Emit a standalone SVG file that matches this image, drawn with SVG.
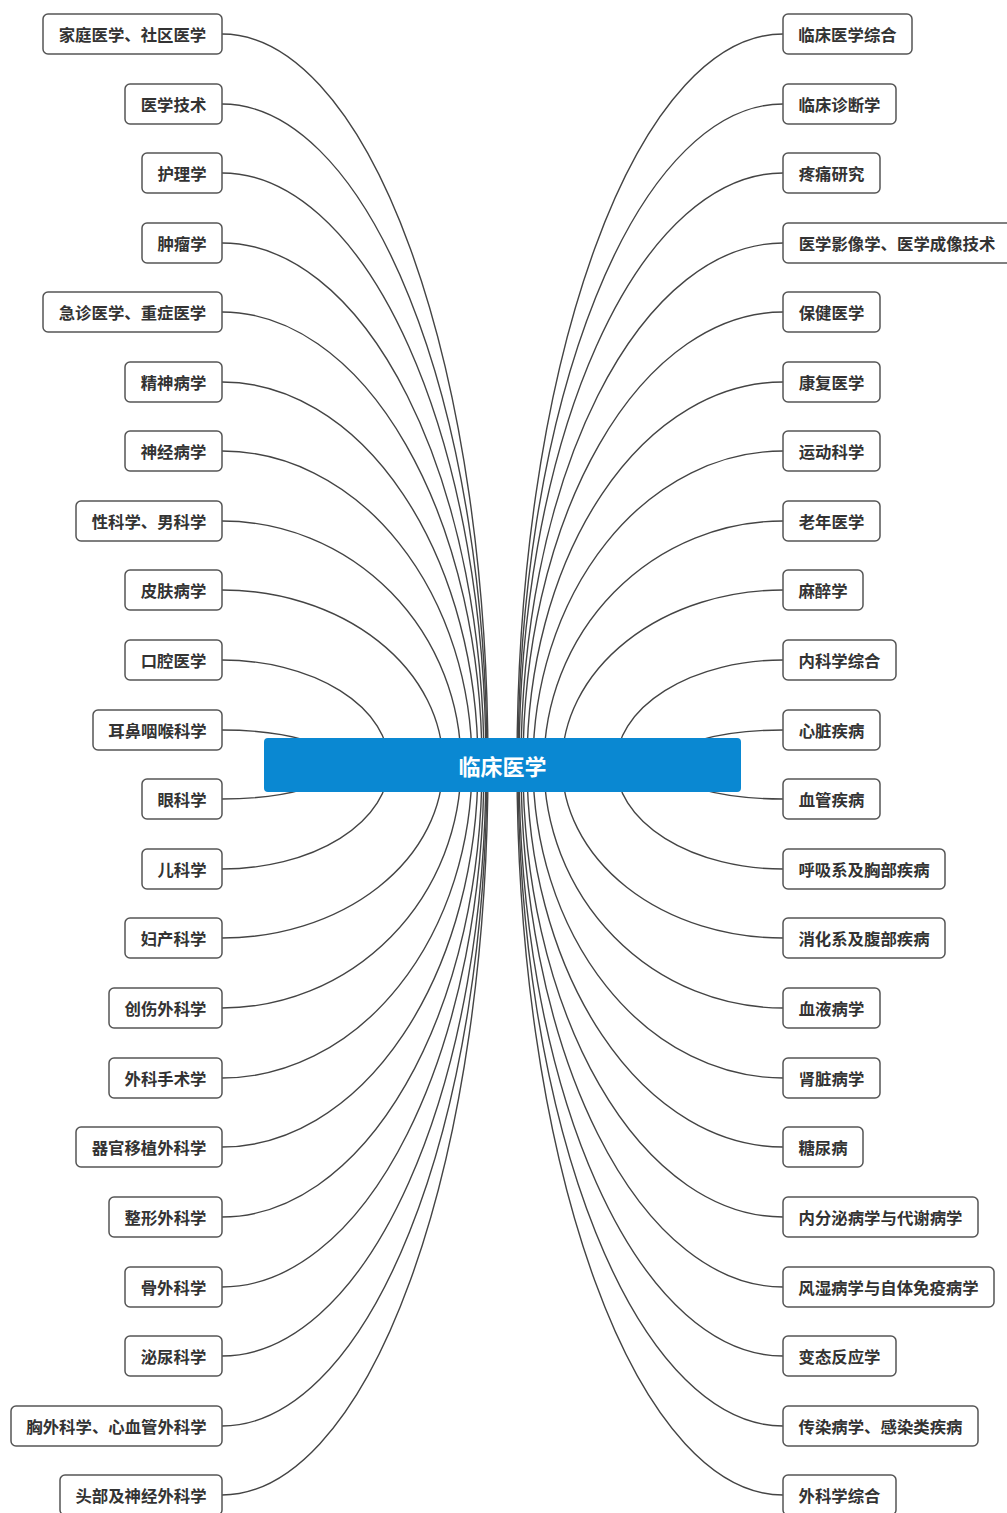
<svg xmlns="http://www.w3.org/2000/svg" width="1007" height="1513" viewBox="0 0 1007 1513">
<style>
.node{fill:#fff;stroke:#555;stroke-width:1.5}
.t{font-family:"Noto Sans CJK SC","Noto Sans",sans-serif;font-size:16.4px;font-weight:bold;fill:#333;text-anchor:middle;dominant-baseline:central}
.c{fill:none;stroke:#444;stroke-width:1.4}
.root{fill:#0a88d2}
.rt{font-family:"Noto Sans CJK SC","Noto Sans",sans-serif;font-size:22px;font-weight:bold;fill:#fff;text-anchor:middle;dominant-baseline:central}
</style>
<rect width="1007" height="1513" fill="#fff"/>
<g id="connectors" class="c">
<path d="M222 34 A266 730.5 0 0 1 488 764.5"/>
<path d="M222 104 A265 660.5 0 0 1 487 764.5"/>
<path d="M222 173 A264 591.5 0 0 1 486 764.5"/>
<path d="M222 243 A262 521.5 0 0 1 484 764.5"/>
<path d="M222 312 A260 452.5 0 0 1 482 764.5"/>
<path d="M222 382 A256 382.5 0 0 1 478 764.5"/>
<path d="M222 451 A250 313.5 0 0 1 472 764.5"/>
<path d="M222 521 A239 243.5 0 0 1 461 764.5"/>
<path d="M222 590 A221 174.5 0 0 1 443 764.5"/>
<path d="M222 660 A167 104.5 0 0 1 389 764.5"/>
<path d="M222 730 A118 34.5 0 0 1 340 764.5"/>
<path d="M222 799 A118 34.5 0 0 0 340 764.5"/>
<path d="M222 869 A167 104.5 0 0 0 389 764.5"/>
<path d="M222 938 A221 173.5 0 0 0 443 764.5"/>
<path d="M222 1008 A239 243.5 0 0 0 461 764.5"/>
<path d="M222 1078 A250 313.5 0 0 0 472 764.5"/>
<path d="M222 1147 A256 382.5 0 0 0 478 764.5"/>
<path d="M222 1217 A260 452.5 0 0 0 482 764.5"/>
<path d="M222 1287 A262 522.5 0 0 0 484 764.5"/>
<path d="M222 1356 A264 591.5 0 0 0 486 764.5"/>
<path d="M222 1426 A265 661.5 0 0 0 487 764.5"/>
<path d="M222 1495 A266 730.5 0 0 0 488 764.5"/>
<path d="M783 34 A266 730.5 0 0 0 517 764.5"/>
<path d="M783 104 A265 660.5 0 0 0 518 764.5"/>
<path d="M783 173 A264 591.5 0 0 0 519 764.5"/>
<path d="M783 243 A262 521.5 0 0 0 521 764.5"/>
<path d="M783 312 A260 452.5 0 0 0 523 764.5"/>
<path d="M783 382 A256 382.5 0 0 0 527 764.5"/>
<path d="M783 451 A250 313.5 0 0 0 533 764.5"/>
<path d="M783 521 A239 243.5 0 0 0 544 764.5"/>
<path d="M783 590 A221 174.5 0 0 0 562 764.5"/>
<path d="M783 660 A167 104.5 0 0 0 616 764.5"/>
<path d="M783 730 A118 34.5 0 0 0 665 764.5"/>
<path d="M783 799 A118 34.5 0 0 1 665 764.5"/>
<path d="M783 869 A167 104.5 0 0 1 616 764.5"/>
<path d="M783 938 A221 173.5 0 0 1 562 764.5"/>
<path d="M783 1008 A239 243.5 0 0 1 544 764.5"/>
<path d="M783 1078 A250 313.5 0 0 1 533 764.5"/>
<path d="M783 1147 A256 382.5 0 0 1 527 764.5"/>
<path d="M783 1217 A260 452.5 0 0 1 523 764.5"/>
<path d="M783 1287 A262 522.5 0 0 1 521 764.5"/>
<path d="M783 1356 A264 591.5 0 0 1 519 764.5"/>
<path d="M783 1426 A265 661.5 0 0 1 518 764.5"/>
<path d="M783 1495 A266 730.5 0 0 1 517 764.5"/>
</g>
<g id="root"><rect class="root" x="264" y="738" width="477" height="54" rx="4"/><text class="rt" x="502.5" y="765">临床医学</text></g>
<g id="l0"><rect class="node" x="43" y="14" width="179" height="40" rx="5"/><text class="t" x="132.5" y="34">家庭医学、社区医学</text></g>
<g id="l1"><rect class="node" x="125" y="84" width="97" height="40" rx="5"/><text class="t" x="173.5" y="104">医学技术</text></g>
<g id="l2"><rect class="node" x="142" y="153" width="80" height="40" rx="5"/><text class="t" x="182" y="173">护理学</text></g>
<g id="l3"><rect class="node" x="142" y="223" width="80" height="40" rx="5"/><text class="t" x="182" y="243">肿瘤学</text></g>
<g id="l4"><rect class="node" x="43" y="292" width="179" height="40" rx="5"/><text class="t" x="132.5" y="312">急诊医学、重症医学</text></g>
<g id="l5"><rect class="node" x="125" y="362" width="97" height="40" rx="5"/><text class="t" x="173.5" y="382">精神病学</text></g>
<g id="l6"><rect class="node" x="125" y="431" width="97" height="40" rx="5"/><text class="t" x="173.5" y="451">神经病学</text></g>
<g id="l7"><rect class="node" x="76" y="501" width="146" height="40" rx="5"/><text class="t" x="149" y="521">性科学、男科学</text></g>
<g id="l8"><rect class="node" x="125" y="570" width="97" height="40" rx="5"/><text class="t" x="173.5" y="590">皮肤病学</text></g>
<g id="l9"><rect class="node" x="125" y="640" width="97" height="40" rx="5"/><text class="t" x="173.5" y="660">口腔医学</text></g>
<g id="l10"><rect class="node" x="93" y="710" width="129" height="40" rx="5"/><text class="t" x="157.5" y="730">耳鼻咽喉科学</text></g>
<g id="l11"><rect class="node" x="142" y="779" width="80" height="40" rx="5"/><text class="t" x="182" y="799">眼科学</text></g>
<g id="l12"><rect class="node" x="142" y="849" width="80" height="40" rx="5"/><text class="t" x="182" y="869">儿科学</text></g>
<g id="l13"><rect class="node" x="125" y="918" width="97" height="40" rx="5"/><text class="t" x="173.5" y="938">妇产科学</text></g>
<g id="l14"><rect class="node" x="109" y="988" width="113" height="40" rx="5"/><text class="t" x="165.5" y="1008">创伤外科学</text></g>
<g id="l15"><rect class="node" x="109" y="1058" width="113" height="40" rx="5"/><text class="t" x="165.5" y="1078">外科手术学</text></g>
<g id="l16"><rect class="node" x="76" y="1127" width="146" height="40" rx="5"/><text class="t" x="149" y="1147">器官移植外科学</text></g>
<g id="l17"><rect class="node" x="109" y="1197" width="113" height="40" rx="5"/><text class="t" x="165.5" y="1217">整形外科学</text></g>
<g id="l18"><rect class="node" x="125" y="1267" width="97" height="40" rx="5"/><text class="t" x="173.5" y="1287">骨外科学</text></g>
<g id="l19"><rect class="node" x="125" y="1336" width="97" height="40" rx="5"/><text class="t" x="173.5" y="1356">泌尿科学</text></g>
<g id="l20"><rect class="node" x="11" y="1406" width="211" height="40" rx="5"/><text class="t" x="116.5" y="1426">胸外科学、心血管外科学</text></g>
<g id="l21"><rect class="node" x="60" y="1475" width="162" height="40" rx="5"/><text class="t" x="141" y="1495">头部及神经外科学</text></g>
<g id="r0"><rect class="node" x="783" y="14" width="129" height="40" rx="5"/><text class="t" x="847.5" y="34">临床医学综合</text></g>
<g id="r1"><rect class="node" x="783" y="84" width="113" height="40" rx="5"/><text class="t" x="839.5" y="104">临床诊断学</text></g>
<g id="r2"><rect class="node" x="783" y="153" width="97" height="40" rx="5"/><text class="t" x="831.5" y="173">疼痛研究</text></g>
<g id="r3"><rect class="node" x="783" y="223" width="228" height="40" rx="5"/><text class="t" x="897" y="243">医学影像学、医学成像技术</text></g>
<g id="r4"><rect class="node" x="783" y="292" width="97" height="40" rx="5"/><text class="t" x="831.5" y="312">保健医学</text></g>
<g id="r5"><rect class="node" x="783" y="362" width="97" height="40" rx="5"/><text class="t" x="831.5" y="382">康复医学</text></g>
<g id="r6"><rect class="node" x="783" y="431" width="97" height="40" rx="5"/><text class="t" x="831.5" y="451">运动科学</text></g>
<g id="r7"><rect class="node" x="783" y="501" width="97" height="40" rx="5"/><text class="t" x="831.5" y="521">老年医学</text></g>
<g id="r8"><rect class="node" x="783" y="570" width="80" height="40" rx="5"/><text class="t" x="823" y="590">麻醉学</text></g>
<g id="r9"><rect class="node" x="783" y="640" width="113" height="40" rx="5"/><text class="t" x="839.5" y="660">内科学综合</text></g>
<g id="r10"><rect class="node" x="783" y="710" width="97" height="40" rx="5"/><text class="t" x="831.5" y="730">心脏疾病</text></g>
<g id="r11"><rect class="node" x="783" y="779" width="97" height="40" rx="5"/><text class="t" x="831.5" y="799">血管疾病</text></g>
<g id="r12"><rect class="node" x="783" y="849" width="162" height="40" rx="5"/><text class="t" x="864" y="869">呼吸系及胸部疾病</text></g>
<g id="r13"><rect class="node" x="783" y="918" width="162" height="40" rx="5"/><text class="t" x="864" y="938">消化系及腹部疾病</text></g>
<g id="r14"><rect class="node" x="783" y="988" width="97" height="40" rx="5"/><text class="t" x="831.5" y="1008">血液病学</text></g>
<g id="r15"><rect class="node" x="783" y="1058" width="97" height="40" rx="5"/><text class="t" x="831.5" y="1078">肾脏病学</text></g>
<g id="r16"><rect class="node" x="783" y="1127" width="80" height="40" rx="5"/><text class="t" x="823" y="1147">糖尿病</text></g>
<g id="r17"><rect class="node" x="783" y="1197" width="195" height="40" rx="5"/><text class="t" x="880.5" y="1217">内分泌病学与代谢病学</text></g>
<g id="r18"><rect class="node" x="783" y="1267" width="211" height="40" rx="5"/><text class="t" x="888.5" y="1287">风湿病学与自体免疫病学</text></g>
<g id="r19"><rect class="node" x="783" y="1336" width="113" height="40" rx="5"/><text class="t" x="839.5" y="1356">变态反应学</text></g>
<g id="r20"><rect class="node" x="783" y="1406" width="195" height="40" rx="5"/><text class="t" x="880.5" y="1426">传染病学、感染类疾病</text></g>
<g id="r21"><rect class="node" x="783" y="1475" width="113" height="40" rx="5"/><text class="t" x="839.5" y="1495">外科学综合</text></g>
</svg>
